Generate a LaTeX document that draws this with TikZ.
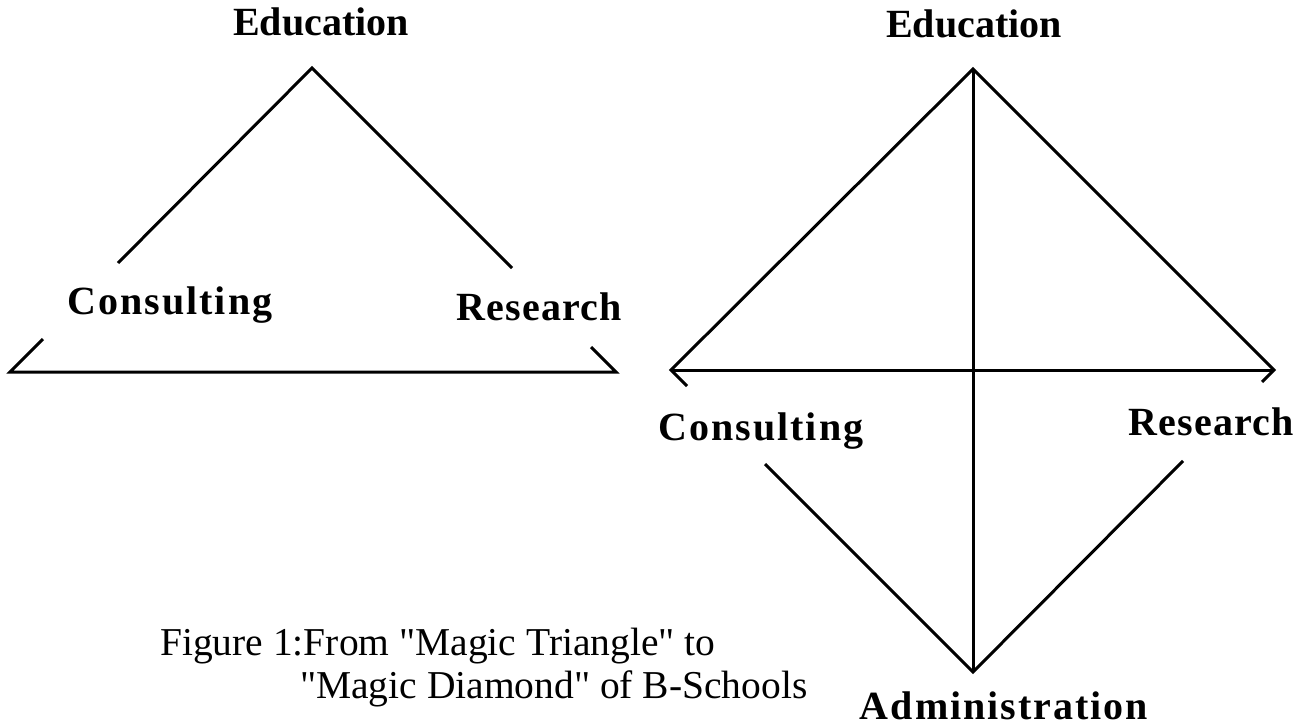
\documentclass[tikz,border=0pt]{standalone}
\usepackage{fontspec}
\setmainfont{Liberation Serif}
\begin{document}
\begin{tikzpicture}[x=1pt,y=-1pt,
  edge/.style={draw=black,line width=3pt,line join=miter},
  lbl/.style={anchor=base,inner sep=0pt,font=\fontsize{40}{48}\selectfont\bfseries},
  captext/.style={anchor=base west,inner sep=0pt,font=\fontsize{39.5}{46}\selectfont}]
\useasboundingbox (0,0) rectangle (1299,725);
% left triangle
\coordinate (A) at (312,68);
\coordinate (L) at (10,372);
\coordinate (R) at (616,372);
\coordinate (La) at (118,263);
\coordinate (Lb) at (43,339);
\coordinate (Ra) at (512,268);
\coordinate (Rb) at (591,347);
\draw[edge] (La) -- (A) -- (Ra);
\draw[edge] (Lb) -- (L) -- (R) -- (Rb);
\node[lbl] (edu1) at (321,36) {Education};
\node[lbl] (cons1) at (170,314) {\addfontfeature{LetterSpace=5}Consulting};
\node[lbl] (res1) at (539,320) {\addfontfeature{LetterSpace=3}Research};
% right diamond
\coordinate (T) at (973,69);
\coordinate (Lp) at (671,370);
\coordinate (Rp) at (1274,370);
\coordinate (B) at (973,672);
\coordinate (Lc) at (687,386);
\coordinate (Ld) at (765,464);
\coordinate (Rc) at (1262,382);
\coordinate (Rd) at (1183,461);
\draw[edge] (Lc) -- (Lp) -- (T) -- (Rp) -- (Rc);
\draw[edge] (Ld) -- (B) -- (Rd);
\draw[edge] (T) -- (B);
\draw[edge] (Lp) -- (Rp);
\node[lbl] (edu2) at (974,38) {Education};
\node[lbl] (cons2) at (761,440) {\addfontfeature{LetterSpace=5}Consulting};
\node[lbl] (res2) at (1211,435) {\addfontfeature{LetterSpace=3}Research};
\node[lbl] (adm) at (1004,719) {\addfontfeature{LetterSpace=5}Administration};
% caption
\node[captext] (cap1) at (160,655) {Figure 1:From \textquotedbl Magic Triangle\textquotedbl\ to};
\node[captext] (cap2) at (300,698) {\textquotedbl Magic Diamond\textquotedbl\ of B-Schools};
\end{tikzpicture}
\end{document}
